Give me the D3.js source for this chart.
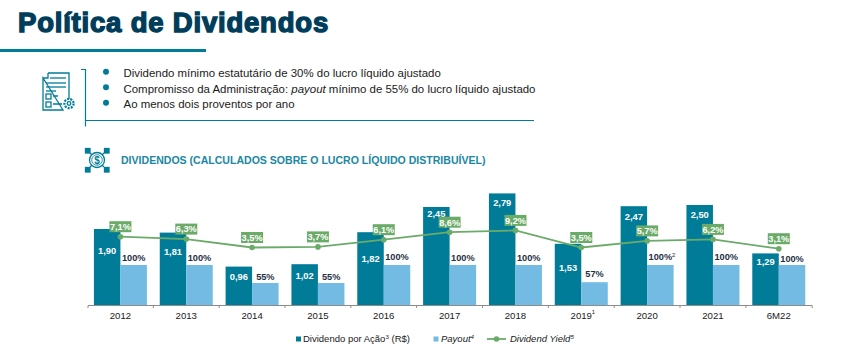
<!DOCTYPE html>
<html>
<head>
<meta charset="utf-8">
<script src="https://cdn.jsdelivr.net/npm/d3@7"></script>
<style>
  html, body { margin: 0; padding: 0; background: #fff; }
  svg { display: block; }
  text { font-family: "Liberation Sans", Arial, sans-serif; }
</style>
</head>
<body>
<div id="chart"></div>
<script>
const categories = ["2012", "2013", "2014", "2015", "2016", "2017", "2018", "2019", "2020", "2021", "6M22"];
const dividendo = [1.90, 1.81, 0.96, 1.02, 1.82, 2.45, 2.79, 1.53, 2.47, 2.50, 1.29];
const payout = [100, 100, 55, 55, 100, 100, 100, 57, 100, 100, 100];
const dividendYield = [7.1, 6.3, 3.5, 3.7, 6.1, 8.6, 9.2, 3.5, 5.7, 6.2, 3.1];
const bullets = [
  [["Dividendo mínimo estatutário de 30% do lucro líquido ajustado", false]],
  [["Compromisso da Administração: ", false], ["payout", true], [" mínimo de 55% do lucro líquido ajustado", false]],
  [["Ao menos dois proventos por ano", false]]
];

// label placement, hand tuned: the source slide nudges each label
const divLabelDy = [22, 19, 10, 11, 26, 7, 9, 24, 10, 10, 8];
const payLabelDy = [7.5, 7.5, 6, 6, 8.5, 7.5, 7.5, 9, 8.5, 8.5, 6];

const width = 860;
const height = 357;
const teal = "#007c99";
const navy = "#003d5b";
const lightBlue = "#74bbe3";
const green = "#6bab69";

const svg = d3.select("#chart").append("svg")
  .attr("width", width)
  .attr("height", height);

// header
svg.append("text")
  .attr("x", 18).attr("y", 32)
  .attr("font-size", 27.5)
  .attr("font-weight", 700)
  .attr("fill", navy)
  .attr("stroke", navy)
  .attr("stroke-width", 1.4)
  .attr("letter-spacing", 0.8)
  .text("Política de Dividendos");

svg.append("rect")
  .attr("x", 0).attr("y", 49)
  .attr("width", 206).attr("height", 3)
  .attr("fill", teal);

// bracket around the bullets
svg.append("path")
  .attr("d", "M81,69.5H85.5V126.5M85.5,120.5H534")
  .attr("fill", "none")
  .attr("stroke", teal)
  .attr("stroke-width", 1.2);

const bulletY = d3.scalePoint().domain(d3.range(bullets.length)).range([73, 104]);
const bulletRows = svg.append("g").selectAll("g").data(bullets).join("g")
  .attr("transform", (d, i) => `translate(0,${bulletY(i)})`);

bulletRows.append("circle")
  .attr("cx", 106).attr("cy", -1.2).attr("r", 3)
  .attr("fill", teal);

bulletRows.append("text")
  .attr("x", 123.5).attr("y", 4)
  .attr("font-size", 11.45)
  .attr("fill", "#1a1a1a")
  .selectAll("tspan").data(d => d).join("tspan")
  .attr("font-style", d => d[1] ? "italic" : "normal")
  .attr("xml:space", "preserve")
  .text(d => d[0]);

// document icon
const docIcon = svg.append("g")
  .attr("fill", "none").attr("stroke", teal).attr("stroke-width", 1.3);
docIcon.append("path").attr("d", "M48,73H69V99M63,110H43V78Z M48,73V78H43");
docIcon.selectAll("path.row").data([78, 83, 87, 91]).join("path")
  .attr("class", "row")
  .attr("d", (d, i) => `M${i ? 46 : 50},${d}H${i === 3 ? 56 : 66}`);
docIcon.append("rect").attr("x", 46).attr("y", 94).attr("width", 5).attr("height", 5);
docIcon.append("rect").attr("x", 46).attr("y", 102).attr("width", 5).attr("height", 5);
docIcon.append("path").attr("d", "M53,96H58M53,104H62");
docIcon.append("circle").attr("cx", 69).attr("cy", 103.5).attr("r", 4.6).attr("stroke-width", 2.2)
  .attr("stroke-dasharray", "2 1.2");
docIcon.append("circle").attr("cx", 69).attr("cy", 103.5).attr("r", 1.8);

// dollar icon
const coinIcon = svg.append("g")
  .attr("fill", "none").attr("stroke", teal).attr("stroke-width", 1.3);
coinIcon.append("circle").attr("cx", 97).attr("cy", 160).attr("r", 7.5);
coinIcon.append("circle").attr("cx", 97).attr("cy", 160).attr("r", 5.3).attr("stroke-width", 0.8);
svg.append("text")
  .attr("x", 97).attr("y", 163.5)
  .attr("text-anchor", "middle")
  .attr("font-size", 10)
  .attr("font-weight", 700)
  .attr("fill", teal)
  .text("$");
coinIcon.selectAll("rect.corner").data([[85.5, 148.5], [104.5, 148.5], [85.5, 167.5], [104.5, 167.5]]).join("rect")
  .attr("class", "corner")
  .attr("x", d => d[0]).attr("y", d => d[1])
  .attr("width", 4.5).attr("height", 4.5)
  .attr("fill", teal);
coinIcon.selectAll("path.arrow").data([[90, 153, 1, 1], [104, 153, -1, 1], [90, 167, 1, -1], [104, 167, -1, -1]]).join("path")
  .attr("class", "arrow")
  .attr("d", d => `M${d[0]},${d[1]}l${d[2] * 2},${d[3] * 2}`);

svg.append("text")
  .attr("x", 121).attr("y", 164)
  .attr("font-size", 10.55)
  .attr("font-weight", 700)
  .attr("fill", "#1a87a3")
  .text("DIVIDENDOS (CALCULADOS SOBRE O LUCRO LÍQUIDO DISTRIBUÍVEL)");

// scales
const baseY = 305;
const x = d3.scaleBand().domain(categories).range([87.5, 811.7]);
const barW = 26.5;
const yDiv = d3.scaleLinear().domain([0, 3]).range([baseY, baseY - 120]);
const yPay = d3.scaleLinear().domain([0, 100]).range([baseY, baseY - 40]);
const yYield = d3.scaleLinear().domain([0, 10]).range([258, 228]);
const cx = c => x(c) + x.step() / 2;

// bars
const rows = categories.map((c, i) => ({
  c, div: dividendo[i], pay: payout[i], yld: dividendYield[i],
  divDy: divLabelDy[i], payDy: payLabelDy[i]
}));

svg.append("g").selectAll("rect").data(rows).join("rect")
  .attr("x", d => cx(d.c) - barW)
  .attr("y", d => yDiv(d.div))
  .attr("width", barW)
  .attr("height", d => baseY - yDiv(d.div))
  .attr("fill", teal);

svg.append("g").selectAll("rect").data(rows).join("rect")
  .attr("x", d => cx(d.c))
  .attr("y", d => yPay(d.pay))
  .attr("width", barW)
  .attr("height", d => baseY - yPay(d.pay))
  .attr("fill", lightBlue);

// axis
const axis = svg.append("g")
  .attr("transform", `translate(0,${baseY})`)
  .call(d3.axisBottom(x).tickSize(0).tickSizeOuter(3).tickPadding(7));
axis.select(".domain").attr("stroke", "#8c8c8c").attr("stroke-width", 1);
axis.selectAll("text")
  .attr("font-size", 9.6)
  .attr("font-family", "Liberation Sans")
  .attr("fill", "#1a1a1a");
axis.selectAll("line.sep").data(categories.slice(1)).join("line")
  .attr("class", "sep")
  .attr("x1", d => x(d)).attr("x2", d => x(d))
  .attr("y1", 0).attr("y2", 3)
  .attr("stroke", "#8c8c8c");

// value labels
svg.append("g").selectAll("text").data(rows).join("text")
  .attr("x", d => cx(d.c) - barW / 2)
  .attr("y", d => yDiv(d.div) + d.divDy + 3.3)
  .attr("text-anchor", "middle")
  .attr("font-size", 9.3)
  .attr("font-weight", 700)
  .attr("fill", "#fff")
  .text(d => d3.format(".2f")(d.div).replace(".", ","));

svg.append("g").selectAll("text").data(rows).join("text")
  .attr("x", d => cx(d.c) + barW / 2)
  .attr("y", d => yPay(d.pay) - d.payDy + 3.3)
  .attr("text-anchor", "middle")
  .attr("font-size", 9.2)
  .attr("font-weight", 700)
  .attr("fill", "#1f2f45")
  .text(d => d.pay + "%");

// dividend yield line
const line = d3.line().x(d => cx(d.c)).y(d => yYield(d.yld));
svg.append("path")
  .datum(rows)
  .attr("d", line)
  .attr("fill", "none")
  .attr("stroke", green)
  .attr("stroke-width", 1.8);

svg.append("g").selectAll("circle").data(rows).join("circle")
  .attr("cx", d => cx(d.c))
  .attr("cy", d => yYield(d.yld))
  .attr("r", 2.8)
  .attr("fill", green);

const yieldLabels = svg.append("g").selectAll("g").data(rows).join("g")
  .attr("transform", d => `translate(${cx(d.c)},${yYield(d.yld) - 10})`);
yieldLabels.append("rect")
  .attr("x", -11).attr("y", -5.5)
  .attr("width", 22).attr("height", 11)
  .attr("fill", green);
yieldLabels.append("text")
  .attr("y", 3.3)
  .attr("text-anchor", "middle")
  .attr("font-size", 9.2)
  .attr("font-weight", 700)
  .attr("fill", "#fff")
  .text(d => d3.format(".1f")(d.yld).replace(".", ",") + "%");

// footnote marks on the chart
function sup(xPos, yPos, txt, fill) {
  svg.append("text")
    .attr("x", xPos).attr("y", yPos)
    .attr("font-size", 6)
    .attr("fill", fill || "#1a1a1a")
    .text(txt);
}
sup(cx("2019") + 10.5, 313.5, "1");
sup(cx("2020") + 25, 257, "2", "#1f2f45");

// legend
const legendY = 339;
svg.append("rect").attr("x", 296).attr("y", legendY - 2.5).attr("width", 5).attr("height", 5).attr("fill", teal);
svg.append("rect").attr("x", 433.5).attr("y", legendY - 2.5).attr("width", 5).attr("height", 5).attr("fill", lightBlue);
svg.append("line")
  .attr("x1", 487).attr("x2", 506)
  .attr("y1", legendY).attr("y2", legendY)
  .attr("stroke", green).attr("stroke-width", 1.8);
svg.append("circle").attr("cx", 496.5).attr("cy", legendY).attr("r", 2.8).attr("fill", green);

function legendText(xPos, parts) {
  const t = svg.append("text")
    .attr("x", xPos).attr("y", legendY + 3)
    .attr("fill", "#1a1a1a");
  parts.forEach(p => {
    t.append("tspan")
      .attr("font-style", p.italic ? "italic" : "normal")
      .attr("font-size", p.sup ? 6.2 : 9.5)
      .attr("baseline-shift", p.sup ? "super" : null)
      .text(p.text);
  });
}
legendText(303, [{ text: "Dividendo por Ação" }, { text: "3", sup: true }, { text: " (R$)" }]);
legendText(441, [{ text: "Payout", italic: true }, { text: "4", sup: true, italic: true }]);
legendText(510, [{ text: "Dividend Yield", italic: true }, { text: "5", sup: true, italic: true }]);
</script>
</body>
</html>
